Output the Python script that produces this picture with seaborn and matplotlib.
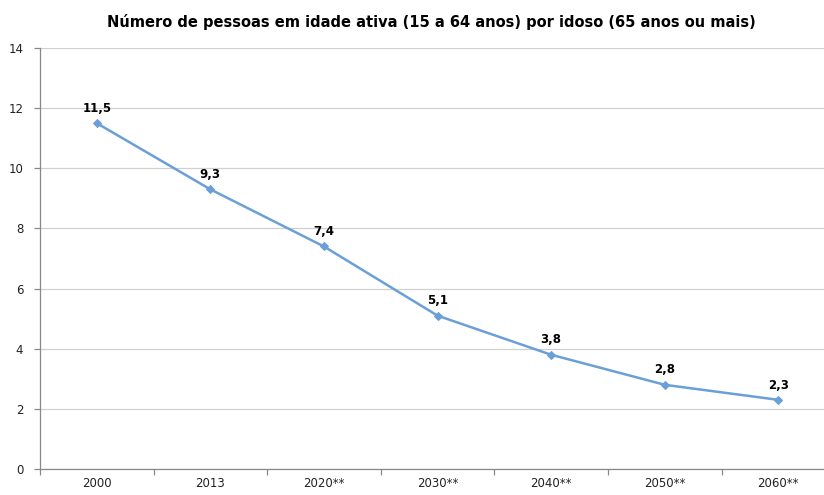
import numpy as np
import pandas as pd
import matplotlib
matplotlib.use("Agg")
import matplotlib.pyplot as plt
import seaborn as sns

# Dados
anos = ["2000", "2013", "2020**", "2030**", "2040**", "2050**", "2060**"]
pessoas_por_idoso = [11.5, 9.3, 7.4, 5.1, 3.8, 2.8, 2.3]
y_ticks = [0, 2, 4, 6, 8, 10, 12, 14]

df = pd.DataFrame({"ano": anos, "valor": pessoas_por_idoso})
df["pos"] = range(len(df))

sns.set_style("white")
plt.rcParams["font.family"] = ["DejaVu Sans"]

fig = plt.figure(figsize=(8.24, 4.95), dpi=100)
ax = fig.add_axes([0.0485, 0.0525, 0.965, 0.8505])

cor = "#6A9FD8"
sns.lineplot(data=df, x="pos", y="valor", ax=ax, color=cor, linewidth=1.8,
             marker="D", markersize=4.5, markeredgecolor=cor)

for p, v in zip(df["pos"], df["valor"]):
    ax.annotate(f"{v:.1f}".replace(".", ","), (p, v), xytext=(0, 6),
                textcoords="offset points", ha="center", va="bottom",
                fontsize=8.5, fontweight="bold", color="black")

ax.set_xlim(-0.5, len(anos) - 0.5)
ax.set_ylim(0, 14)
ax.set_yticks(y_ticks)
ax.set_yticklabels([str(t) for t in y_ticks], fontsize=8.5, color="#222222")
ax.set_xticks(df["pos"])
ax.set_xticklabels(anos, fontsize=8.5, color="#222222")
ax.set_xticks(np.arange(-0.5, len(anos) - 0.4, 1), minor=True)
ax.tick_params(axis="x", which="major", bottom=True, length=0, pad=6)
ax.tick_params(axis="x", which="minor", bottom=True, length=4, width=0.9,
               color="#888888", direction="out")
ax.tick_params(axis="y", left=True, length=4, width=0.9, color="#888888",
               direction="out", pad=8)

ax.yaxis.grid(True, color="#D0D0D0", linewidth=0.9)
ax.set_axisbelow(True)
for s in ["top", "right"]:
    ax.spines[s].set_visible(False)
for s in ["left", "bottom"]:
    ax.spines[s].set_color("#888888")
    ax.spines[s].set_linewidth(0.9)

ax.set_xlabel("")
ax.set_ylabel("")
fig.text(0.524, 0.955, "Número de pessoas em idade ativa (15 a 64 anos) por idoso (65 anos ou mais)",
         ha="center", va="center", fontsize=10.5, fontweight="bold", color="black")

fig.savefig("out.png", dpi=100)
